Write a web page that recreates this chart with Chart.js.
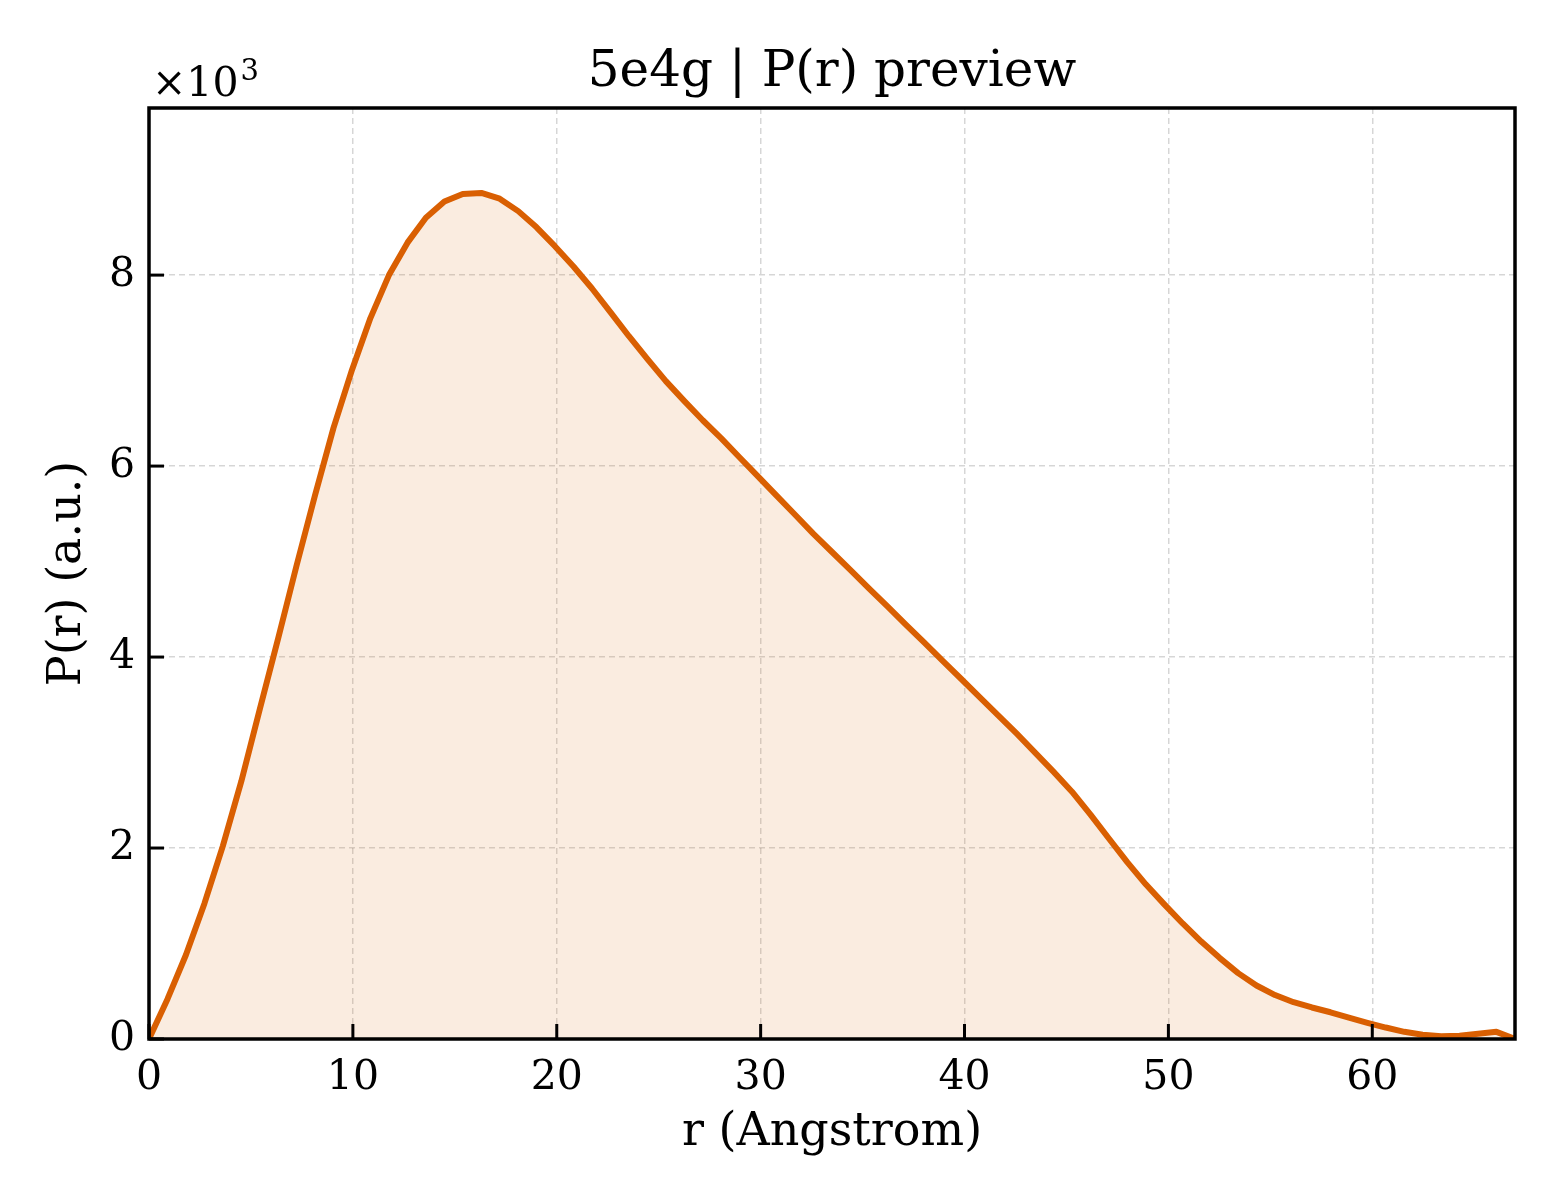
<!DOCTYPE html>
<html>
<head>
  <title>5e4g | P(r) preview</title>
  <style>
    body {
      margin: 0;
      padding: 0;
      background: #ffffff;
    }
    #chart {
      display: block;
    }
  </style>
</head>
<body>
  <canvas id="chart" width="1560" height="1200"></canvas>

  <script src="https://cdn.jsdelivr.net/npm/chart.js"></script>
  <script>
    // r in Angstrom
    const rValues = [
      0, 0.91, 1.81, 2.72, 3.62, 4.53, 5.43, 6.34, 7.24, 8.15,
      9.05, 9.96, 10.86, 11.77, 12.68, 13.58, 14.49, 15.39, 16.3, 17.2,
      18.11, 19.01, 19.92, 20.82, 21.73, 22.64, 23.54, 24.45, 25.35, 26.26,
      27.16, 28.07, 28.97, 29.88, 30.78, 31.69, 32.59, 33.5, 34.41, 35.31,
      36.22, 37.12, 38.03, 38.93, 39.84, 40.74, 41.65, 42.55, 43.46, 44.36,
      45.27, 46.18, 47.08, 47.99, 48.89, 49.8, 50.7, 51.61, 52.51, 53.42,
      54.32, 55.23, 56.14, 57.04, 57.95, 58.85, 59.76, 60.66, 61.57, 62.47,
      63.38, 64.28, 65.19, 66.09, 67.0
    ];
    // P(r), arbitrary units
    const prValues = [
      0, 420, 880, 1420, 2020, 2700, 3450, 4200, 4960, 5700,
      6400, 7010, 7550, 8000, 8340, 8600, 8770, 8850, 8860, 8800,
      8670, 8500, 8300, 8090, 7860, 7610, 7360, 7120, 6890, 6680,
      6480, 6290, 6090, 5890, 5690, 5490, 5290, 5100, 4910, 4720,
      4530, 4340, 4150, 3960, 3770, 3580, 3390, 3200, 3000, 2800,
      2590, 2350, 2100, 1850, 1620, 1410, 1210, 1020, 850, 690,
      560, 460, 385, 330, 280, 225, 170, 120, 75, 45,
      30, 35, 55, 75, 0
    ];
    const xTicks = [0, 10, 20, 30, 40, 50, 60];
    const yTicks = [0, 2000, 4000, 6000, 8000];

    const FONT = "'DejaVu Serif', serif";
    const lineColor = '#d95f02';

    // frame, inward ticks, title and the x10^3 offset label
    const decorations = {
      id: 'decorations',
      afterDraw(c) {
        const ctx = c.ctx;
        const a = c.chartArea;
        const xs = c.scales.x, ys = c.scales.y;
        ctx.save();
        ctx.strokeStyle = '#000';
        ctx.lineWidth = 3;
        xTicks.forEach(v => {
          const px = xs.getPixelForValue(v);
          ctx.beginPath();
          ctx.moveTo(px, a.bottom);
          ctx.lineTo(px, a.bottom - 15);
          ctx.stroke();
        });
        yTicks.forEach(v => {
          const py = ys.getPixelForValue(v);
          ctx.beginPath();
          ctx.moveTo(a.left, py);
          ctx.lineTo(a.left + 15, py);
          ctx.stroke();
        });
        ctx.lineWidth = 3.5;
        ctx.strokeRect(a.left, a.top, a.right - a.left, a.bottom - a.top);

        ctx.fillStyle = '#000';
        ctx.textBaseline = 'alphabetic';
        ctx.textAlign = 'center';
        ctx.font = '50px ' + FONT;
        ctx.fillText('5e4g | P(r) preview', (a.left + a.right) / 2, 86);

        ctx.textAlign = 'left';
        ctx.font = '41px ' + FONT;
        ctx.fillText('\u00d710', 152, 96);
        const w = ctx.measureText('\u00d710').width;
        ctx.font = '29px ' + FONT;
        ctx.fillText('3', 152 + w + 2, 80);
        ctx.restore();
      }
    };

    new Chart(document.getElementById('chart'), {
      type: 'line',
      data: {
        datasets: [{
          data: rValues.map((r, i) => ({ x: r, y: prValues[i] })),
          borderColor: lineColor,
          borderWidth: 6,
          borderJoinStyle: 'round',
          backgroundColor: 'rgba(217, 95, 2, 0.12)',
          fill: 'origin',
          pointRadius: 0,
          tension: 0
        }]
      },
      options: {
        responsive: false,
        animation: false,
        devicePixelRatio: 1,
        layout: { padding: { top: 108, right: 45, left: 0, bottom: 0 } },
        plugins: {
          legend: { display: false },
          title: { display: false },
          tooltip: { enabled: false }
        },
        scales: {
          x: {
            type: 'linear',
            min: 0,
            max: 67,
            afterFit(scale) { scale.height = 161; },
            afterBuildTicks(scale) { scale.ticks = xTicks.map(v => ({ value: v })); },
            ticks: {
              color: '#000',
              padding: 15,
              maxRotation: 0,
              font: { family: FONT, size: 41 }
            },
            grid: {
              color: 'rgba(0,0,0,0.16)',
              lineWidth: 1.5,
              drawTicks: false
            },
            border: { display: false, dash: [6, 4] },
            title: {
              display: true,
              text: 'r (Angstrom)',
              color: '#000',
              font: { family: FONT, size: 46 },
              padding: { top: 0, bottom: 39 }
            }
          },
          y: {
            type: 'linear',
            min: 0,
            max: 9750,
            afterFit(scale) { scale.width = 149; },
            afterBuildTicks(scale) { scale.ticks = yTicks.map(v => ({ value: v })); },
            ticks: {
              color: '#000',
              padding: 14,
              font: { family: FONT, size: 41 },
              callback: v => String(v / 1000)
            },
            grid: {
              color: 'rgba(0,0,0,0.16)',
              lineWidth: 1.5,
              drawTicks: false
            },
            border: { display: false, dash: [6, 4] },
            title: {
              display: true,
              text: 'P(r) (a.u.)',
              color: '#000',
              font: { family: FONT, size: 46 },
              padding: { top: 40, bottom: 0 }
            }
          }
        }
      },
      plugins: [decorations]
    });
  </script>
</body>
</html>
